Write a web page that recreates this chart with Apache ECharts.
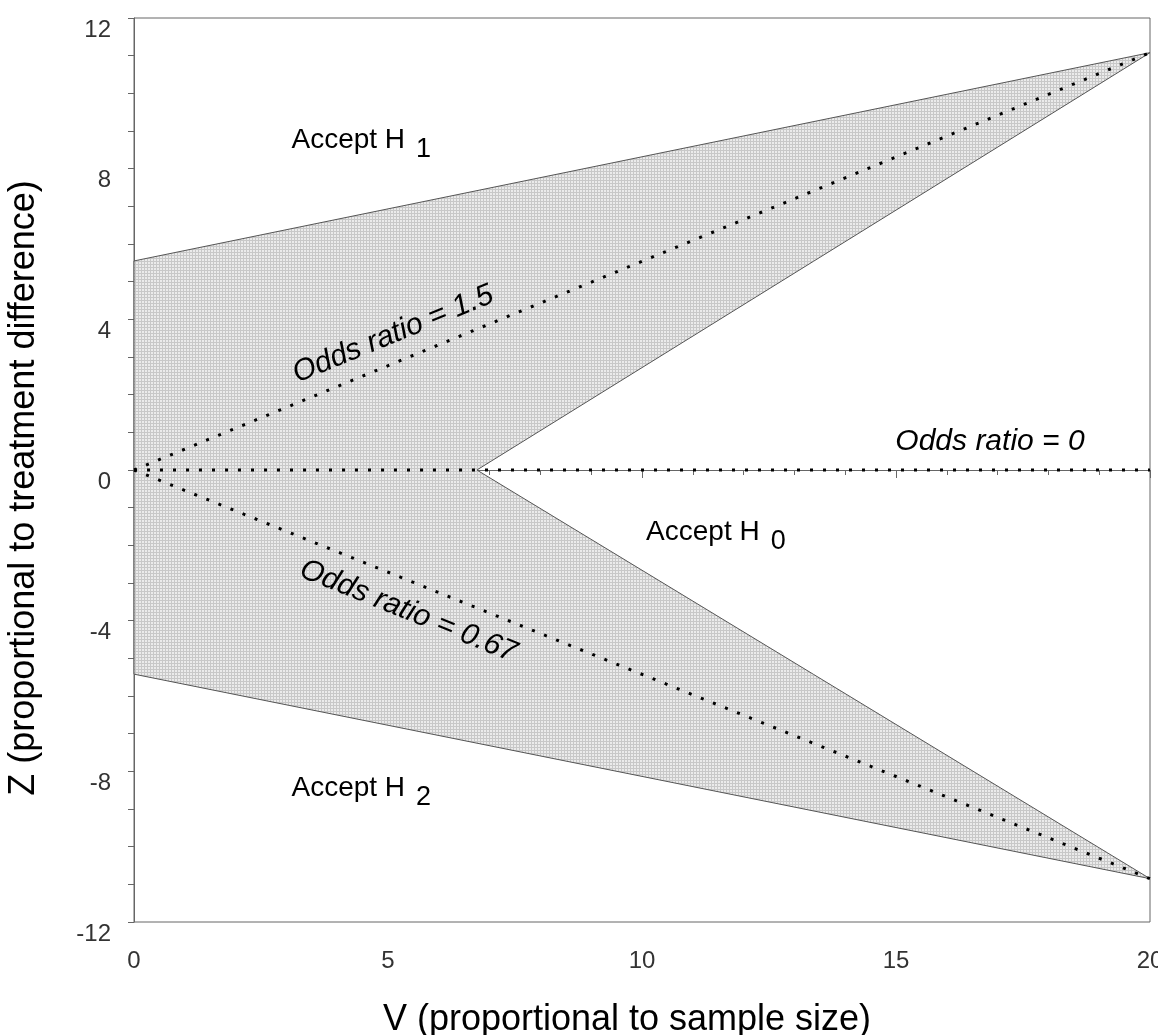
<!DOCTYPE html>
<html>
<head>
<meta charset="utf-8">
<script src="https://cdn.jsdelivr.net/npm/echarts@6/dist/echarts.min.js"></script>
<style>
  html, body { margin: 0; padding: 0; background: #fff; }
  #chart { width: 1158px; height: 1035px; }
</style>
</head>
<body>
<div id="chart"></div>
<script>
// continuation region (shaded), vertices as (V, Z)
const regionV = [0, 20, 6.75, 20, 0];
const regionZ = [5.55, 11.08, 0, -10.85, -5.42];

// dotted reference lines, all start at the origin
const lineV = [0, 20];
const upperZ = [0, 11.08];   // odds ratio = 1.5
const nullZ = [0, 0];        // odds ratio = 0
const lowerZ = [0, -10.85];  // odds ratio = 0.67

const xTicks = [0, 5, 10, 15, 20];
const yTicks = [-12, -8, -4, 0, 4, 8, 12];

const FONT = '"Liberation Sans", Arial, sans-serif';

// stipple fill for the shaded region
const tile = document.createElement('canvas');
tile.width = 3; tile.height = 3;
const tc = tile.getContext('2d');
tc.fillStyle = '#ebebeb'; tc.fillRect(0, 0, 3, 3);
tc.fillStyle = '#c8c8c8'; tc.fillRect(0, 0, 3, 1); tc.fillRect(0, 0, 1, 3);

const pairs = (xs, ys) => xs.map((x, i) => [x, ys[i]]);

const dotted = (zs) => ({
  type: 'line',
  data: pairs(lineV, zs),
  symbol: 'none',
  silent: true,
  z: 3,
  lineStyle: { color: '#000', width: 3, type: [3, 10], cap: 'butt' }
});

const chart = echarts.init(document.getElementById('chart'));

chart.setOption({
  animation: false,
  backgroundColor: '#fff',
  grid: {
    left: 134, right: 8, top: 18, bottom: 113,
    outerBoundsMode: 'none',
    containLabel: false,
    show: true, borderColor: '#666', borderWidth: 1, backgroundColor: 'transparent'
  },
  xAxis: {
    type: 'value',
    min: xTicks[0], max: xTicks[xTicks.length - 1],
    interval: xTicks[1] - xTicks[0],
    name: 'V (proportional to sample size)',
    nameLocation: 'middle',
    nameGap: 80,
    nameTextStyle: { fontFamily: FONT, fontSize: 36, color: '#000', padding: [0, 30, 0, 0] },
    axisLine: { lineStyle: { color: '#666', width: 1 } },
    axisTick: { length: 8, lineStyle: { color: '#666' } },
    minorTick: { show: true, splitNumber: 5, length: 5, lineStyle: { color: '#666' } },
    splitLine: { show: false },
    axisLabel: { fontFamily: FONT, fontSize: 24, color: '#333', margin: 27, hideOverlap: false }
  },
  yAxis: {
    type: 'value',
    min: yTicks[0], max: yTicks[yTicks.length - 1],
    interval: yTicks[1] - yTicks[0],
    name: 'Z (proportional to treatment difference)',
    nameLocation: 'middle',
    nameRotate: 90,
    nameGap: 92,
    nameTextStyle: { fontFamily: FONT, fontSize: 36, color: '#000', padding: [0, 36, 0, 0] },
    axisLine: { lineStyle: { color: '#666', width: 1 } },
    axisTick: { length: 6, lineStyle: { color: '#666' } },
    minorTick: { show: true, splitNumber: 4, length: 6, lineStyle: { color: '#666' } },
    splitLine: { show: false },
    axisLabel: { fontFamily: FONT, fontSize: 24, color: '#333', margin: 23, verticalAlign: 'top', hideOverlap: false }
  },
  series: [
    {
      type: 'custom',
      data: pairs(regionV, regionZ),
      silent: true,
      z: 1,
      renderItem: (params, api) => {
        if (params.dataIndex !== 0) return;
        const pts = regionV.map((v, i) => api.coord([v, regionZ[i]]));
        return {
          type: 'polygon',
          shape: { points: pts },
          style: { fill: { image: tile, repeat: 'repeat' }, stroke: '#555', lineWidth: 1 }
        };
      }
    },
    dotted(upperZ),
    dotted(nullZ),
    dotted(lowerZ)
  ]
});

// annotations placed in data coordinates
const toPx = (p) => chart.convertToPixel({ gridIndex: 0 }, p);
const measure = document.createElement('canvas').getContext('2d');

const accept = [
  { sub: '1', at: [3.1, 8.75] },
  { sub: '0', at: [10.08, -1.65] },
  { sub: '2', at: [3.1, -8.45] }
];

const graphics = [];
accept.forEach(a => {
  const [px, py] = toPx(a.at);
  measure.font = '28px ' + FONT;
  const w = measure.measureText('Accept H').width;
  graphics.push({
    type: 'text', x: px, y: py, z: 10,
    style: { text: 'Accept H', fontFamily: FONT, fontSize: 28, fill: '#000', align: 'left', verticalAlign: 'middle' }
  });
  graphics.push({
    type: 'text', x: px + w + 11, y: py + 9, z: 10,
    style: { text: a.sub, fontFamily: FONT, fontSize: 27, fill: '#000', align: 'left', verticalAlign: 'middle' }
  });
});

const angleOf = (zs) => {
  const a = toPx([lineV[0], zs[0]]);
  const b = toPx([lineV[1], zs[1]]);
  return -Math.atan2(b[1] - a[1], b[0] - a[0]);
};

const oddsNotes = [
  { text: 'Odds ratio = 1.5', at: [5.1, 3.6], rot: angleOf(upperZ) },
  { text: 'Odds ratio = 0.67', at: [5.4, -3.75], rot: angleOf(lowerZ) },
  { text: 'Odds ratio = 0', at: [16.85, 0.75], rot: 0 }
];
oddsNotes.forEach(n => {
  const [px, py] = toPx(n.at);
  graphics.push({
    type: 'text', x: px, y: py, rotation: n.rot, z: 10,
    style: { text: n.text, fontFamily: FONT, fontSize: 30, fontStyle: 'italic', fill: '#000', align: 'center', verticalAlign: 'middle' }
  });
});

chart.setOption({ graphic: graphics });
</script>
</body>
</html>
